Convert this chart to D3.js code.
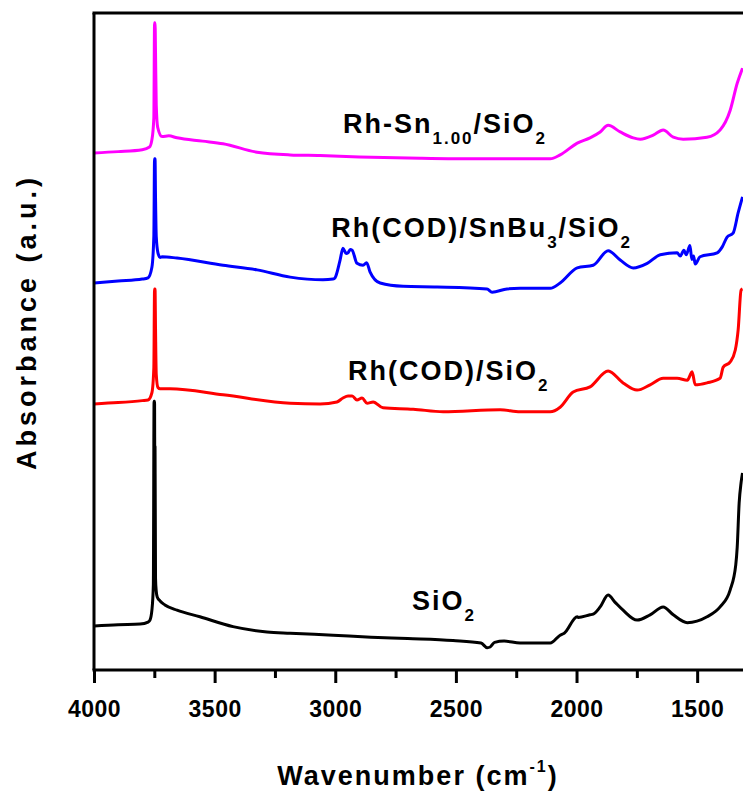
<!DOCTYPE html>
<html>
<head>
<meta charset="utf-8">
<script src="https://cdn.jsdelivr.net/npm/d3@7"></script>
<style>
  body { margin: 0; background: #fff; }
  text { font-family: "Liberation Sans", Arial, sans-serif; font-weight: bold; fill: #000; }
</style>
</head>
<body>
<div id="chart"></div>
<script>
// wavenumber (cm-1), absorbance (a.u., offset per trace)
var sio2 = [
  [4000,6.7],[3900,6.9],[3809,7.0],[3776,7.3],[3768,7.6],[3760,9.1],[3754,13],[3751,40.9],[3749,40.9],
  [3748,30],[3747,34],[3745,14],[3742,12],[3738,11.1],[3726,10.5],[3706,9.9],[3656,9.1],[3561,8.1],
  [3424,6.6],[3283,5.8],[3187,5.6],[3009,5.3],[2852,5.0],[2700,4.8],[2512,4.5],
  [2396,4.1],[2370,3.4],[2358,3.5],[2340,4.2],[2300,4.4],[2234,4.1],[2109,4.1],[2068,5.3],[2051,5.6],
  [1997,8.1],[1993,8.0],[1944,8.4],[1931,8.5],[1902,9.6],[1869,11.4],[1840,10.3],[1807,9.1],[1749,7.6],
  [1695,8.4],[1641,9.6],[1599,8.4],[1541,7.2],[1459,8.1],[1405,9.6],[1363,12.2],[1340,16],[1334,18.7],
  [1326,25.4],[1318,28.5],[1312,30.0]
];
var rhCod = [
  [4000,40.5],[3900,40.7],[3800,41.0],[3776,41.1],[3760,42.2],[3752,46],[3749,58.0],[3747,58.0],[3745,52],
  [3742,45],[3735,43.0],[3726,42.8],[3685,42.8],[3465,41.9],[3187,40.6],[3063,40.5],[2993,40.8],[2968,41.4],
  [2947,41.7],[2930,41.7],[2910,41.1],[2889,41.4],[2868,40.6],[2843,40.8],[2802,39.9],[2677,39.7],
  [2553,39.3],[2317,39.6],[2234,39.3],[2109,39.3],[2068,40.0],[2014,42.3],[1944,43.1],[1869,45.5],
  [1807,43.7],[1749,42.6],[1695,43.4],[1641,44.4],[1583,44.4],[1541,44.1],[1525,45.2],[1521,45.4],
  [1508,43.4],[1459,43.7],[1405,44.4],[1392,46.1],[1363,46.9],[1342,48.7],[1330,51.8],[1318,57.8],[1312,58.0]
];
var rhCodSn = [
  [4000,58.9],[3900,59.2],[3800,59.5],[3776,59.7],[3760,61.3],[3752,66],[3749,77.8],[3747,77.8],[3745,72],
  [3742,66],[3735,63.5],[3726,62.8],[3718,62.9],[3656,62.7],[3465,61.6],[3324,60.9],[3187,59.8],[3051,59.4],
  [3009,59.5],[3001,59.7],[2980,62.4],[2968,64.2],[2955,63.4],[2947,63.5],[2938,64.0],[2930,63.9],
  [2910,61.9],[2885,61.6],[2870,62.0],[2856,60.6],[2814,58.9],[2719,58.4],[2578,58.3],[2371,58.0],
  [2350,57.5],[2288,58.0],[2234,58.1],[2109,58.1],[2068,58.9],[1997,61.2],[1931,61.6],[1869,63.8],
  [1819,62.4],[1765,61.2],[1707,61.9],[1653,63.2],[1583,63.5],[1570,63.0],[1555,63.9],[1545,63.2],
  [1530,64.6],[1522,62.5],[1515,63.0],[1508,61.8],[1488,62.9],[1417,63.5],[1396,64.4],[1376,65.9],
  [1351,66.5],[1330,69.6],[1312,72.0]
];
var rhSn = [
  [4000,78.7],[3900,78.9],[3800,79.2],[3770,79.6],[3760,80.7],[3752,84],[3749,98.5],[3747,98.5],[3745,94],
  [3742,86],[3736,82.6],[3718,81.2],[3690,81.3],[3656,81.0],[3550,80.5],[3465,80.1],[3324,78.8],[3187,78.4],
  [3063,78.3],[2900,78.1],[2648,77.9],[2400,77.8],[2234,77.8],[2109,77.8],[2068,78.4],[1997,80.2],
  [1944,81.0],[1902,81.9],[1869,82.9],[1819,81.9],[1765,81.0],[1736,80.8],[1682,81.4],[1641,82.2],
  [1599,81.1],[1558,80.8],[1459,81.1],[1405,82.2],[1363,85.2],[1334,89.3],[1312,91.6]
];

var seriesColors = ["#000000", "#ff0000", "#0000ff", "#ff00ff"];
var majorTicks = [4000, 3500, 3000, 2500, 2000, 1500];
var minorTicks = [3750, 3250, 2750, 2250, 1750];

var margin = { top: 13, left: 94, right: 0, bottom: 121 },
  width = 743 - margin.left - margin.right,
  height = 791 - margin.top - margin.bottom;

var xPositionScale = d3.scaleLinear().domain([4000, 1310]).range([0, width]);
var yPositionScale = d3.scaleLinear().domain([0, 100]).range([height, 0]);

var line = d3.line()
  .x(function(d) { return xPositionScale(d[0]); })
  .y(function(d) { return yPositionScale(d[1]); })
  .curve(d3.curveMonotoneX);

var svg = d3.select("#chart")
  .append("svg")
  .attr("width", 743)
  .attr("height", 791)
  .append("g")
  .attr("transform", "translate(" + margin.left + "," + margin.top + ")");

svg.append("clipPath").attr("id", "clip")
  .append("rect").attr("x", 0).attr("y", 0).attr("width", width).attr("height", height);

// traces, bottom one first so the red spike sits over the black one
var allSeries = [sio2, rhCod, rhCodSn, rhSn];
allSeries.forEach(function(data, i) {
  svg.append("path")
    .datum(data)
    .attr("d", line)
    .attr("clip-path", "url(#clip)")
    .attr("fill", "none")
    .attr("stroke", seriesColors[i])
    .attr("stroke-width", 3)
    .attr("stroke-linejoin", "round");
});

// frame: left and top
svg.append("line").attr("x1", 0).attr("x2", 0).attr("y1", 0).attr("y2", height)
  .attr("stroke", "#000").attr("stroke-width", 3);
svg.append("line").attr("x1", -1.5).attr("x2", width + 5).attr("y1", 0).attr("y2", 0)
  .attr("stroke", "#000").attr("stroke-width", 3);

// x axis
var xAxis = d3.axisBottom(xPositionScale).tickValues(majorTicks).tickSize(13).tickPadding(18)
  .tickSizeOuter(0).tickFormat(d3.format("d"));
var xg = svg.append("g")
  .attr("class", "axis x-axis")
  .attr("transform", "translate(0," + height + ")")
  .call(xAxis);
xg.select(".domain").attr("stroke-width", 3).attr("d", "M-1.5,0H" + (width + 5));
xg.selectAll(".tick line").attr("stroke-width", 3);
xg.selectAll(".tick text")
  .style("font-size", "23px")
  .style("letter-spacing", "0.5px")
  .attr("fill", "#000");

var xMinor = d3.axisBottom(xPositionScale).tickValues(minorTicks).tickSize(8).tickFormat("");
var xm = svg.append("g")
  .attr("transform", "translate(0," + height + ")")
  .call(xMinor);
xm.select(".domain").remove();
xm.selectAll(".tick line").attr("stroke-width", 3);

// axis titles
var xt = svg.append("text")
  .attr("x", 418 - margin.left)
  .attr("y", 785 - margin.top)
  .attr("text-anchor", "middle")
  .style("font-size", "27px")
  .style("letter-spacing", "2px");
xt.append("tspan").text("Wavenumber (cm");
xt.append("tspan").text("-1").style("font-size", "16px").attr("dy", -13);
xt.append("tspan").text(")").attr("dy", 13);

svg.append("text")
  .attr("transform", "translate(" + (36 - margin.left) + "," + (322 - margin.top) + ") rotate(-90)")
  .attr("text-anchor", "middle")
  .style("font-size", "27px")
  .style("letter-spacing", "4px")
  .text("Absorbance (a.u.)");

// trace labels: [parts], position in data units
var labelParts = [
  [["SiO", ""], ["2", "sub"]],
  [["Rh(COD)/SiO", ""], ["2", "sub"]],
  [["Rh(COD)/SnBu", ""], ["3", "sub"], ["/SiO", ""], ["2", "sub"]],
  [["Rh-Sn", ""], ["1.00", "sub"], ["/SiO", ""], ["2", "sub"]]
];
var labelAt = [[2682, 9.13], [2947, 44.1], [3017, 65.9], [2968, 81.7]];

labelParts.forEach(function(parts, i) {
  var t = svg.append("text")
    .attr("x", xPositionScale(labelAt[i][0]))
    .attr("y", yPositionScale(labelAt[i][1]))
    .style("font-size", "27px")
    .style("letter-spacing", "2px");
  var shifted = false;
  parts.forEach(function(p) {
    var s = t.append("tspan").text(p[0]);
    if (p[1] == "sub") {
      s.style("font-size", "17px").attr("dy", 11);
      shifted = true;
    } else if (shifted) {
      s.attr("dy", -11);
      shifted = false;
    }
  });
});
</script>
</body>
</html>
